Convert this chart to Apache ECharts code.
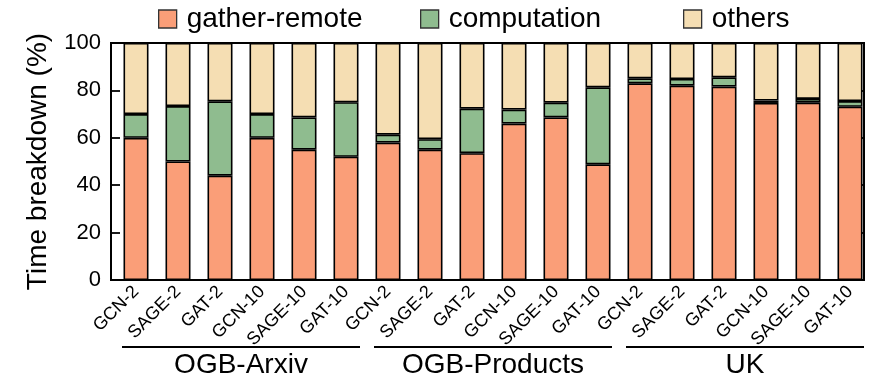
<!DOCTYPE html>
<html><head><meta charset="utf-8">
<script src="https://cdn.jsdelivr.net/npm/echarts@6/dist/echarts.min.js"></script>
<style>html,body{margin:0;padding:0;background:#fff}#c{width:885px;height:379px}</style>
</head><body><div id="c"></div>
<script>
const categories = ['GCN-2','SAGE-2','GAT-2','GCN-10','SAGE-10','GAT-10',
                    'GCN-2','SAGE-2','GAT-2','GCN-10','SAGE-10','GAT-10',
                    'GCN-2','SAGE-2','GAT-2','GCN-10','SAGE-10','GAT-10'];
const groups = ['OGB-Arxiv','OGB-Products','UK'];
const gatherRemote = [60, 50, 44, 60, 55, 52, 58, 55, 53.5, 66, 68.6, 48.8, 83, 82, 81.6, 74.7, 74.8, 73.1];
const computation  = [10, 23.4, 31.4, 10, 13.6, 23, 3.3, 4.4, 18.8, 5.9, 6.2, 32.5, 2.1, 2.8, 3.9, 1.0, 1.6, 2.4];
const others = gatherRemote.map((g,i) => +(100 - g - computation[i]).toFixed(1));
const yTicks = [0, 20, 40, 60, 80, 100];

const FONT = "'Liberation Sans', Arial, Helvetica, sans-serif";
const colors = {gather:'#FA9E78', comp:'#8FBC8F', others:'#F5DEB3'};
const chart = echarts.init(document.getElementById('c'), null, {renderer:'canvas'});

function barSeries(name, data, color){
  return {name, type:'bar', stack:'t', xAxisIndex:1, yAxisIndex:2, barWidth:25, data,
    itemStyle:{color, borderColor:'#000', borderWidth:1.6}, emphasis:{disabled:true}};
}
function legendAt(name, left){
  return {data:[name], left, top:5, itemWidth:18, itemHeight:18, padding:0,
    icon:'rect', itemStyle:{borderColor:'#333', borderWidth:1.3},
    textStyle:{fontFamily:FONT, fontSize:28, color:'#000', padding:[0,0,0,5]}};
}

chart.setOption({
  animation:false,
  backgroundColor:'#fff',
  legend:[legendAt('gather-remote',158), legendAt('computation',420), legendAt('others',683)],
  grid:[
    {left:111, right:21, top:43, bottom:99, show:true, borderColor:'#000', borderWidth:2, backgroundColor:'transparent'},
    {left:115, width:756, top:43, bottom:99}
  ],
  xAxis:[
    {gridIndex:0, type:'value', min:0, max:1, show:false},
    {gridIndex:1, type:'category', data:categories, axisLine:{show:false}, axisTick:{show:false},
     axisLabel:{interval:0, rotate:45, fontFamily:FONT, fontSize:18, color:'#000', margin:9}},
    {gridIndex:1, type:'category', data:groups, position:'bottom', offset:63,
     axisLine:{show:false}, axisTick:{show:false},
     axisLabel:{interval:0, fontFamily:FONT, fontSize:28, color:'#000', margin:8}}
  ],
  yAxis:[
    {gridIndex:0, type:'value', min:0, max:100, interval:20, position:'left',
     axisLine:{show:false}, axisTick:{show:true, inside:true, length:9, lineStyle:{color:'#000', width:1.8}},
     splitLine:{show:false},
     axisLabel:{fontFamily:FONT, fontSize:22, color:'#000', margin:10},
     name:'Time breakdown (%)', nameLocation:'middle', nameGap:59,
     nameTextStyle:{fontFamily:FONT, fontSize:28, color:'#000'}},
    {gridIndex:0, type:'value', min:0, max:100, interval:20, position:'right',
     axisLine:{show:false}, axisTick:{show:true, inside:true, length:9, lineStyle:{color:'#000', width:1.8}},
     splitLine:{show:false}, axisLabel:{show:false}},
    {gridIndex:1, type:'value', min:0, max:100, show:false}
  ],
  series:[
    barSeries('gather-remote', gatherRemote, colors.gather),
    barSeries('computation', computation, colors.comp),
    barSeries('others', others, colors.others)
  ]
});

// group underline segments derived from category axis positions
const lines = [];
for (let g = 0; g < groups.length; g++){
  const x0 = chart.convertToPixel({xAxisIndex:1}, g*6) - 14;
  const x1 = chart.convertToPixel({xAxisIndex:1}, g*6+5) + 14;
  lines.push({type:'line', shape:{x1:x0, y1:347, x2:x1, y2:347}, style:{stroke:'#000', lineWidth:2}});
}
chart.setOption({graphic:lines});
</script></body></html>
